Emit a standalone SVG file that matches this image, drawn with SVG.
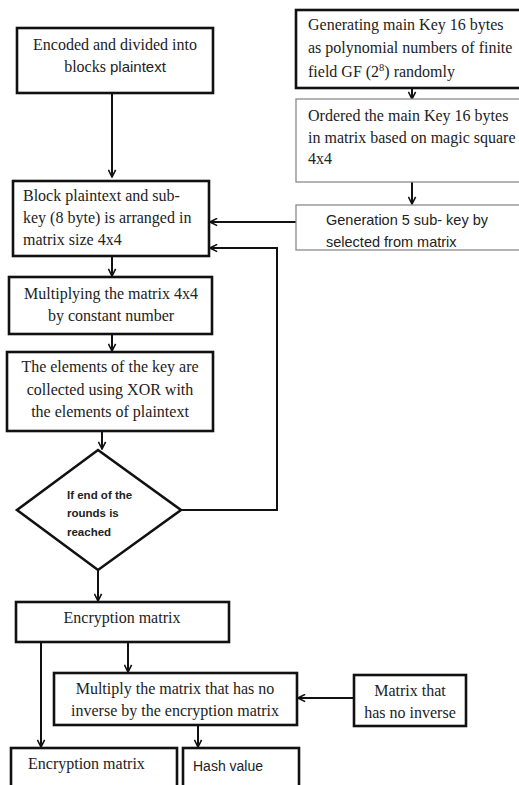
<svg xmlns="http://www.w3.org/2000/svg" width="519" height="785" viewBox="0 0 519 785">
<style>
.thick{fill:#fff;stroke:#111;stroke-width:2.6}
.thin{fill:#fff;stroke:#8a8a8a;stroke-width:1.3}
.serif{font-family:"Liberation Serif","Times New Roman",serif;font-size:16px;fill:#222}
.sans{font-family:"Liberation Sans",Arial,sans-serif;font-size:14.5px;fill:#222}
.bold{font-family:"Liberation Sans",Arial,sans-serif;font-size:11.5px;font-weight:bold;fill:#222}
.c{text-anchor:middle}
.conn{fill:none;stroke:#111;stroke-width:2}
</style>
<defs>
<marker id="ah" viewBox="0 0 10 10" refX="9" refY="5" markerWidth="9" markerHeight="9" markerUnits="userSpaceOnUse" orient="auto">
<path d="M1,1 L9,5 L1,9" fill="none" stroke="#111" stroke-width="1.8"/>
</marker>
</defs>
<rect width="519" height="785" fill="#fff"/>
<g id="connectors">
<path class="conn" d="M112,93 V177" marker-end="url(#ah)"/>
<path class="conn" d="M412,88 V99" marker-end="url(#ah)"/>
<path class="conn" d="M412,182 V204" marker-end="url(#ah)"/>
<path class="conn" d="M296,222 H210" marker-end="url(#ah)"/>
<path class="conn" d="M112,256 V276" marker-end="url(#ah)"/>
<path class="conn" d="M112,334 V351" marker-end="url(#ah)"/>
<path class="conn" d="M102,431 V449" marker-end="url(#ah)"/>
<path class="conn" d="M181,510 H277 V248 H210" marker-end="url(#ah)"/>
<path class="conn" d="M98,570 V601" marker-end="url(#ah)"/>
<path class="conn" d="M41,642 V747" marker-end="url(#ah)"/>
<path class="conn" d="M128,642 V672" marker-end="url(#ah)"/>
<path class="conn" d="M354,698 H298" marker-end="url(#ah)"/>
<path class="conn" d="M198,725 V747" marker-end="url(#ah)"/>
</g>
<g id="n1">
<rect class="thick" x="17" y="28" width="196" height="65"/>
<text class="serif c" x="115" y="50">Encoded and divided into</text>
<text class="serif c" x="115" y="72">blocks <tspan class="sans" style="font-size:15px">plaintext</tspan></text>
</g>
<g id="n2">
<rect class="thick" x="296" y="10" width="226" height="78"/>
<text class="serif" x="308" y="30">Generating main Key 16 bytes</text>
<text class="serif" x="308" y="53">as polynomial numbers of finite</text>
<text class="serif" x="308" y="77">field GF (2<tspan dy="-6" style="font-size:10.5px">8</tspan><tspan dy="6">) randomly</tspan></text>
</g>
<g id="n3">
<rect class="thin" x="296" y="99" width="226" height="83"/>
<text class="serif" x="308" y="121">Ordered the main Key 16 bytes</text>
<text class="serif" x="308" y="143">in matrix based on magic square</text>
<text class="serif" x="308" y="164">4x4</text>
</g>
<g id="n4">
<rect class="thin" x="296" y="205" width="226" height="45"/>
<text class="sans" x="326" y="225">Generation 5 sub- key by</text>
<text class="sans" x="326" y="247">selected from matrix</text>
</g>
<g id="n5">
<rect class="thick" x="13" y="181" width="196" height="75"/>
<text class="serif" x="23" y="201">Block plaintext and sub-</text>
<text class="serif" x="23" y="223">key (8 byte) is arranged in</text>
<text class="serif" x="23" y="245">matrix size 4x4</text>
</g>
<g id="n6">
<rect class="thick" x="9" y="277" width="203" height="57"/>
<text class="serif c" x="111" y="299">Multiplying the matrix 4x4</text>
<text class="serif c" x="111" y="321">by constant number</text>
</g>
<g id="n7">
<rect class="thick" x="7" y="352" width="206" height="79"/>
<text class="serif c" x="110" y="372">The elements of the key are</text>
<text class="serif c" x="110" y="395">collected using XOR with</text>
<text class="serif c" x="110" y="417">the elements of plaintext</text>
</g>
<g id="n8">
<polygon class="thick" points="98,450 181,510 98,570 17,510"/>
<text class="bold" x="67" y="499">If end of the</text>
<text class="bold" x="67" y="517">rounds is</text>
<text class="bold" x="67" y="536">reached</text>
</g>
<g id="n9">
<rect class="thick" x="16" y="602" width="213" height="40"/>
<text class="serif c" x="122" y="623">Encryption matrix</text>
</g>
<g id="n10">
<rect class="thick" x="54" y="673" width="243" height="52"/>
<text class="serif c" x="175" y="694">Multiply the matrix that has no</text>
<text class="serif c" x="175" y="716">inverse by the encryption matrix</text>
</g>
<g id="n11">
<rect class="thick" x="354" y="675" width="112" height="51"/>
<text class="serif c" x="410" y="696">Matrix that</text>
<text class="serif c" x="410" y="718">has no inverse</text>
</g>
<g id="n12">
<rect class="thick" x="11" y="748" width="166" height="40"/>
<text class="serif" x="28" y="769">Encryption matrix</text>
</g>
<g id="n13">
<rect class="thick" x="183" y="748" width="116" height="40"/>
<text class="sans" x="193" y="771" style="font-size:14px">Hash value</text>
</g>
</svg>
